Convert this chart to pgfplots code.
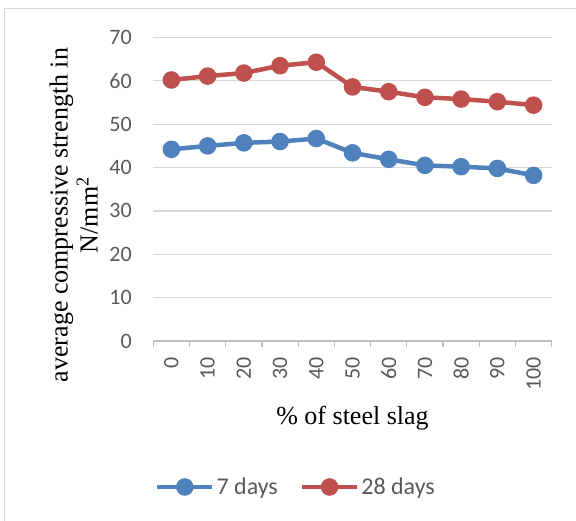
\documentclass[border=0pt]{standalone}
\usepackage{fontspec}
\setmainfont{Liberation Serif}
\newfontfamily\calib{Carlito}
\usepackage{pgfplots}
\pgfplotsset{compat=1.18}
\definecolor{blueS}{HTML}{4F81BD}
\definecolor{redS}{HTML}{C0504D}
\definecolor{gridc}{HTML}{D9D9D9}
\definecolor{axc}{HTML}{BFBFBF}
\definecolor{txt}{HTML}{595959}
\begin{document}
\begin{tikzpicture}
\useasboundingbox (0,0) rectangle (576bp,521bp);
\draw[gridc, line width=1.2bp] (4.5bp,0) -- (4.5bp,512.5bp) -- (576bp,512.5bp);
\begin{axis}[
  at={(153.3bp,180bp)}, anchor=south west,
  scale only axis, width=398.4bp, height=303.5bp,
  xmin=-0.5, xmax=10.5, ymin=0, ymax=70,
  xtick={0,...,10},
  xticklabels={0,10,20,30,40,50,60,70,80,90,100},
  minor xtick={-0.5,0.5,...,10.5},
  ytick={0,10,...,70},
  axis x line*=bottom, axis y line*=left,
  y axis line style={draw=none},
  x axis line style={axc, line width=1.2bp},
  major tick length=0pt,
  minor tick length=6bp,
  tick align=outside,
  minor tick style={axc, line width=1.2bp},
  major tick style={draw=none},
  ymajorgrids, grid style={gridc, line width=1.2bp},
  /pgf/number format/assume math mode=true,
  tick label style={font=\calib\fontsize{22bp}{26bp}\selectfont, text=txt},
  xticklabel style={rotate=90, anchor=east},
  xticklabel shift=13bp,
  yticklabel style={anchor=east, xshift=-18bp},
  xlabel={\% of steel slag},
  xlabel style={at={(axis description cs:0.5,-0.255)}, anchor=center, font=\fontsize{26bp}{30bp}\selectfont},
  ylabel={average compressive strength in\\N/mm\textsuperscript{2}},
  ylabel style={at={(axis description cs:-0.2,0.415)}, anchor=center, align=center, font=\fontsize{26bp}{30bp}\selectfont},
  legend style={at={(axis description cs:0.358,-0.481)}, anchor=center, draw=none, fill=none,
    legend columns=2, font=\calib\fontsize{24bp}{28bp}\selectfont, text=txt,
    nodes={inner sep=2bp},
    /tikz/every even column/.append style={column sep=20bp}},
  legend image code/.code={\draw[mark repeat=2,mark phase=2,#1] plot coordinates {(0bp,0bp) (27.5bp,0bp) (55bp,0bp)};},
  every axis plot/.append style={line width=4.5bp, mark=*, mark size=6.5bp, mark options={solid}},
  clip=false,
]
\addplot[blueS] coordinates {(0,44.2) (1,45.0) (2,45.7) (3,46.0) (4,46.7) (5,43.4) (6,41.9) (7,40.5) (8,40.2) (9,39.8) (10,38.2)};
\addlegendentry{7 days}
\addplot[redS] coordinates {(0,60.2) (1,61.1) (2,61.8) (3,63.5) (4,64.3) (5,58.6) (6,57.5) (7,56.2) (8,55.8) (9,55.2) (10,54.4)};
\addlegendentry{28 days}
\end{axis}
\end{tikzpicture}
\end{document}
